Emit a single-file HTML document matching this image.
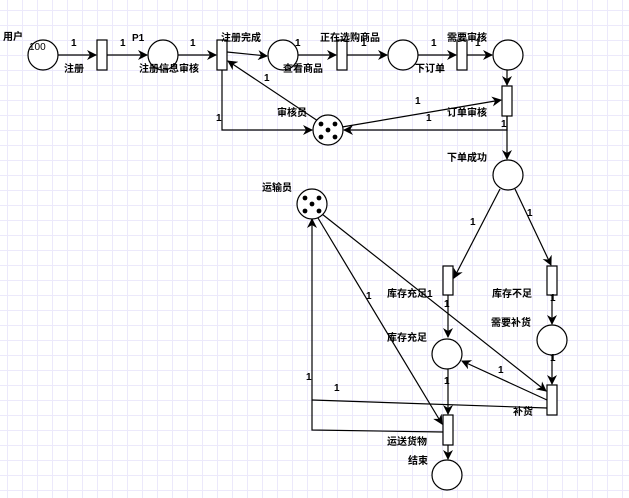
<!DOCTYPE html>
<html><head><meta charset="utf-8"><style>
html,body{margin:0;padding:0;}
body{width:629px;height:498px;overflow:hidden;background-color:#fff;
background-image:linear-gradient(to right,#ece9fb 1px,transparent 1px),linear-gradient(to bottom,#ece9fb 1px,transparent 1px);
background-size:15px 15px;background-position:7px 10px;}
svg{position:absolute;left:0;top:0;}
text{font-family:"Liberation Sans","Noto Sans CJK SC",sans-serif;font-size:10px;font-weight:bold;fill:#000;}
</style></head><body>
<svg width="629" height="498" viewBox="0 0 629 498">
<defs><marker id="a" markerWidth="10" markerHeight="10" refX="9" refY="5" orient="auto" markerUnits="userSpaceOnUse"><path d="M0,0 L10,5 L0,10 L3,5 Z" fill="#000"/></marker></defs>
<g stroke="#000" stroke-width="1.2" fill="none">
<line x1="58" y1="55" x2="96" y2="55" marker-end="url(#a)"/>
<line x1="107" y1="55" x2="147" y2="55" marker-end="url(#a)"/>
<line x1="178" y1="55" x2="216" y2="55" marker-end="url(#a)"/>
<line x1="227" y1="52" x2="267" y2="56" marker-end="url(#a)"/>
<line x1="298" y1="55" x2="336" y2="55" marker-end="url(#a)"/>
<line x1="347" y1="55" x2="387" y2="55" marker-end="url(#a)"/>
<line x1="418" y1="55" x2="456" y2="55" marker-end="url(#a)"/>
<line x1="467" y1="55" x2="492" y2="55" marker-end="url(#a)"/>
<line x1="507" y1="70" x2="507" y2="85" marker-end="url(#a)"/>
<line x1="318" y1="121" x2="228" y2="61" marker-end="url(#a)"/>
<polyline points="222,70 222,130 312,130" marker-end="url(#a)"/>
<line x1="342" y1="127" x2="501" y2="100" marker-end="url(#a)"/>
<polyline points="507,115 507,130 344,130" marker-end="url(#a)"/>
<line x1="507" y1="115" x2="507" y2="159" marker-end="url(#a)"/>
<line x1="500" y1="189" x2="454" y2="278" marker-end="url(#a)"/>
<line x1="515" y1="189" x2="551" y2="265" marker-end="url(#a)"/>
<line x1="448" y1="295" x2="448" y2="337" marker-end="url(#a)"/>
<line x1="552" y1="295" x2="552" y2="324" marker-end="url(#a)"/>
<line x1="552" y1="355" x2="552" y2="384" marker-end="url(#a)"/>
<line x1="547" y1="400" x2="462" y2="361" marker-end="url(#a)"/>
<line x1="448" y1="368" x2="448" y2="414" marker-end="url(#a)"/>
<line x1="448" y1="445" x2="448" y2="459" marker-end="url(#a)"/>
<line x1="322" y1="214" x2="546" y2="391" marker-end="url(#a)"/>
<line x1="318" y1="218" x2="442" y2="424" marker-end="url(#a)"/>
<polyline points="547,408 312,400"/>
<polyline points="443,432 312,430 312,219" marker-end="url(#a)"/>
</g>
<g stroke="#000" stroke-width="1.2" fill="#fff">
<circle cx="43" cy="55" r="15"/>
<circle cx="163" cy="55" r="15"/>
<circle cx="283" cy="55" r="15"/>
<circle cx="403" cy="55" r="15"/>
<circle cx="508" cy="55" r="15"/>
<circle cx="328" cy="130" r="15"/>
<circle cx="508" cy="175" r="15"/>
<circle cx="312" cy="204" r="15"/>
<circle cx="552" cy="340" r="15"/>
<circle cx="447" cy="354" r="15"/>
<circle cx="447" cy="475" r="15"/>
<rect x="97" y="40" width="10" height="30"/>
<rect x="217" y="40" width="10" height="30"/>
<rect x="337" y="40" width="10" height="30"/>
<rect x="457" y="40" width="10" height="30"/>
<rect x="502" y="86" width="10" height="30"/>
<rect x="443" y="266" width="10" height="29"/>
<rect x="547" y="266" width="10" height="29"/>
<rect x="547" y="385" width="10" height="30"/>
<rect x="443" y="415" width="10" height="30"/>
</g>
<g fill="#000">
<circle cx="321" cy="124" r="2.4"/><circle cx="335" cy="124" r="2.4"/><circle cx="328" cy="130" r="2.4"/><circle cx="321" cy="137" r="2.4"/><circle cx="335" cy="137" r="2.4"/>
<circle cx="305" cy="198" r="2.4"/><circle cx="319" cy="198" r="2.4"/><circle cx="312" cy="204" r="2.4"/><circle cx="305" cy="211" r="2.4"/><circle cx="319" cy="211" r="2.4"/>
</g>
<text x="3" y="40">用户</text><text x="29" y="50" style="font-weight:normal">100</text>
<text x="71" y="46">1</text><text x="64" y="72">注册</text>
<text x="120" y="46">1</text><text x="132" y="41">P1</text>
<text x="190" y="46">1</text><text x="139" y="72">注册信息审核</text>
<text x="221" y="41">注册完成</text>
<text x="295" y="46">1</text><text x="283" y="72">查看商品</text>
<text x="320" y="41">正在选购商品</text><text x="361" y="46">1</text>
<text x="431" y="46">1</text><text x="415" y="72">下订单</text>
<text x="447" y="41">需要审核</text><text x="475" y="46">1</text>
<text x="264" y="81">1</text><text x="277" y="116">审核员</text><text x="216" y="121">1</text>
<text x="415" y="104">1</text><text x="426" y="121">1</text><text x="447" y="116">订单审核</text><text x="501" y="127">1</text>
<text x="447" y="161">下单成功</text>
<text x="262" y="191">运输员</text>
<text x="470" y="225">1</text><text x="527" y="216">1</text>
<text x="387" y="297">库存充足1</text><text x="492" y="297">库存不足</text>
<text x="444" y="307">1</text><text x="550" y="301">1</text>
<text x="491" y="326">需要补货</text><text x="387" y="341">库存充足</text>
<text x="366" y="299">1</text>
<text x="498" y="373">1</text><text x="444" y="384">1</text><text x="550" y="361">1</text>
<text x="306" y="380">1</text><text x="334" y="391">1</text>
<text x="513" y="415">补货</text>
<text x="387" y="445">运送货物</text><text x="408" y="464">结束</text>
</svg>
</body></html>
